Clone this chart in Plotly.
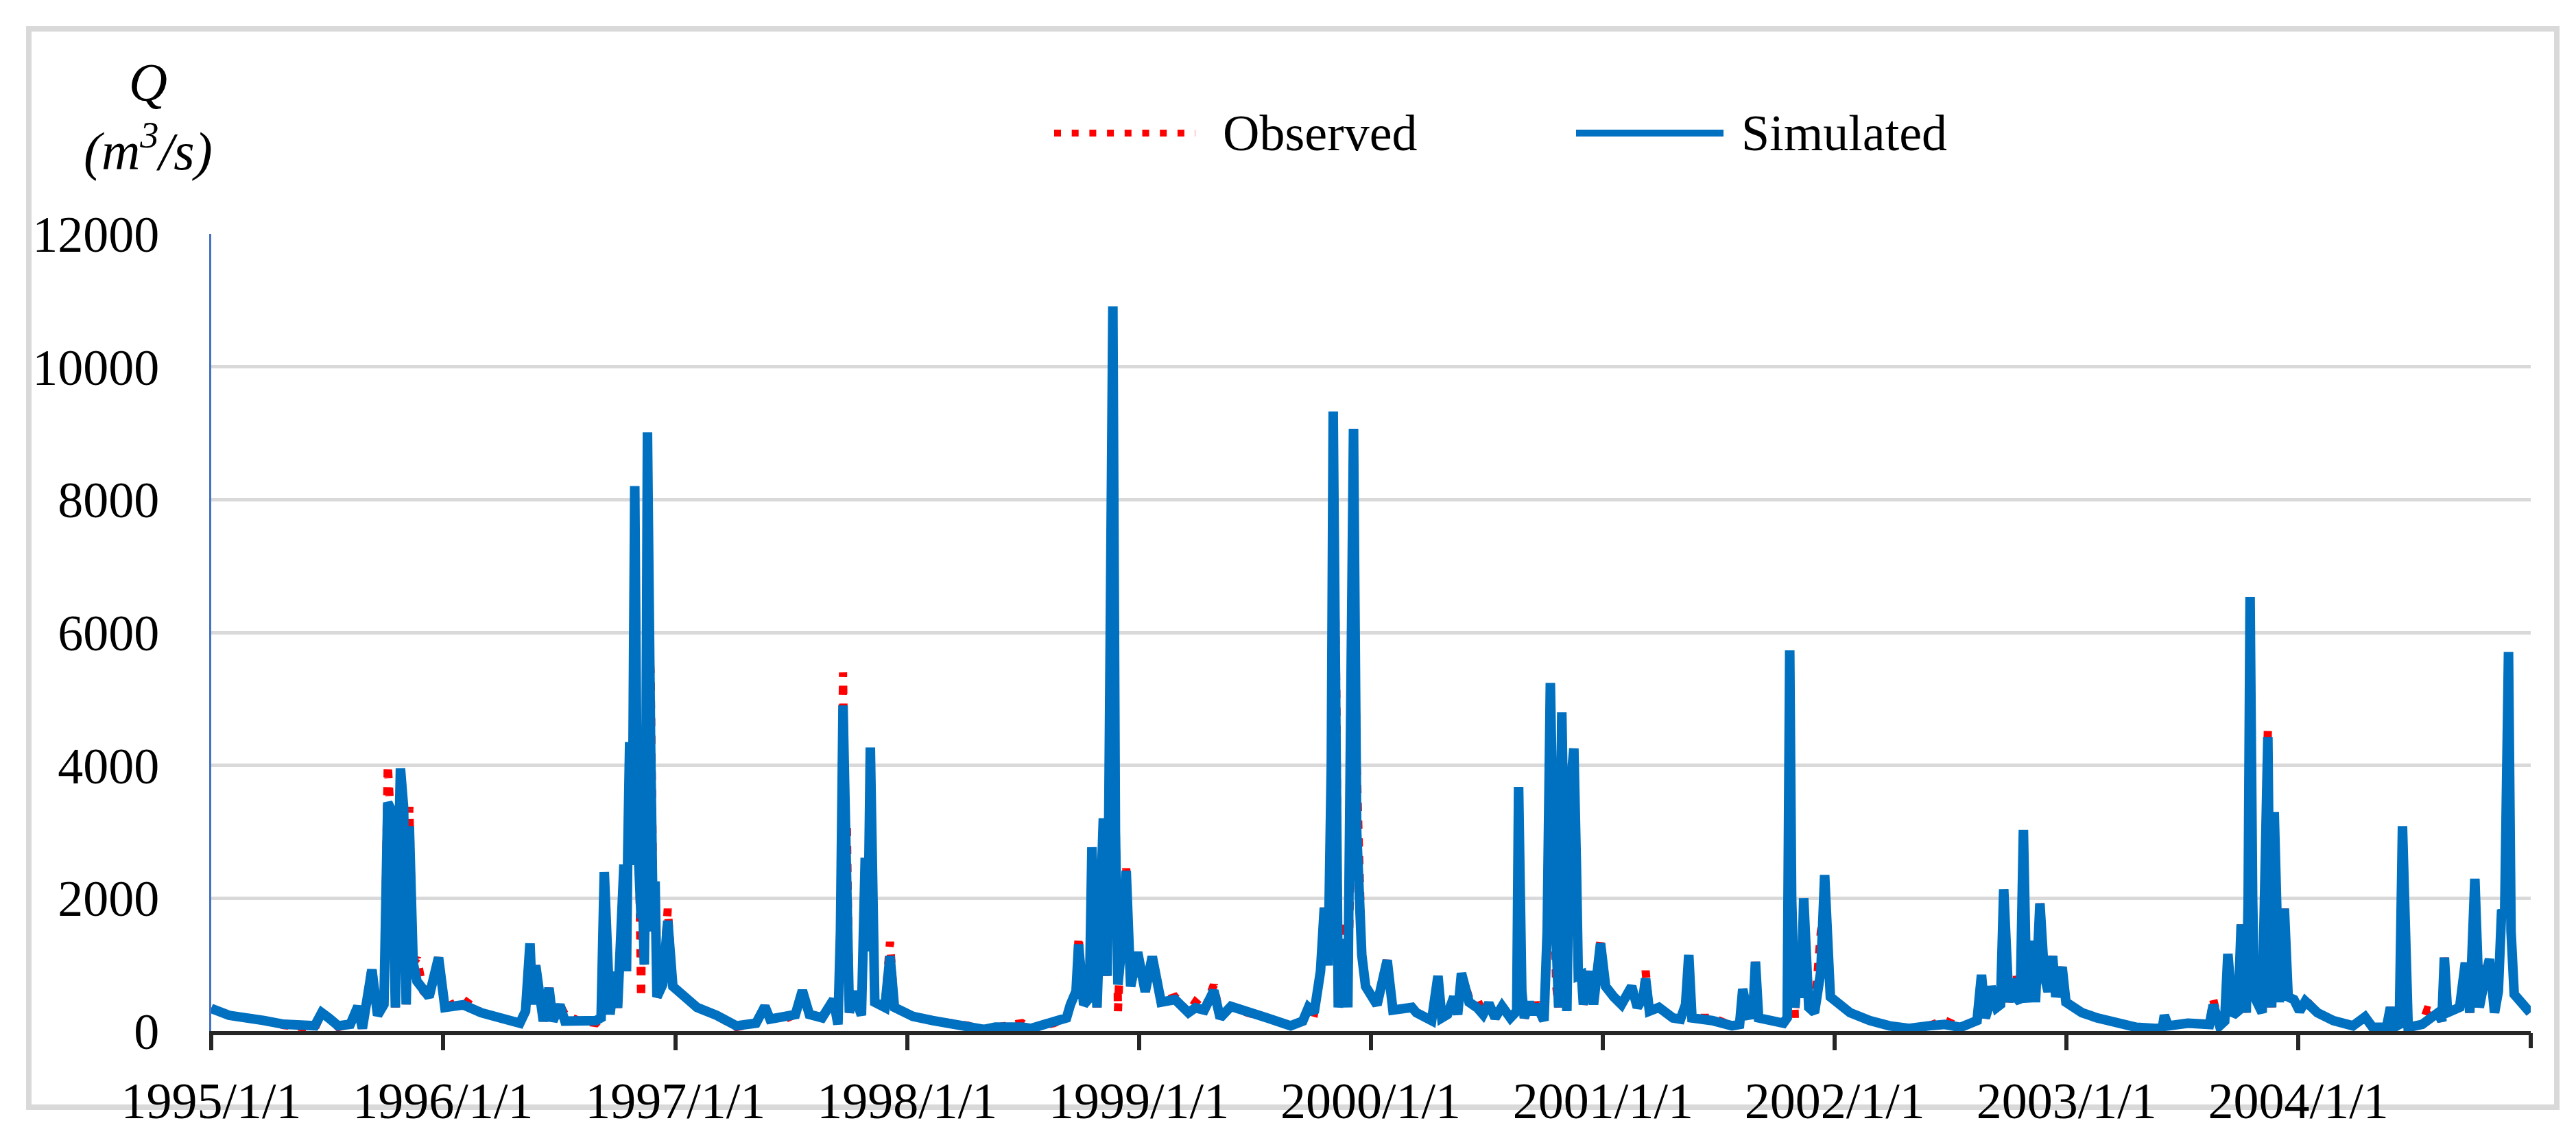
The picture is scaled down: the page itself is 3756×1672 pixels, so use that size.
import plotly.graph_objects as go

# ---- data (daily discharge, key points) ----
dates = [
    # 1995
    "1995-01-01", "1995-01-29", "1995-03-25", "1995-04-25", "1995-06-13", "1995-06-24", "1995-07-05",
    "1995-07-20", "1995-08-08", "1995-08-20", "1995-08-27", "1995-09-11", "1995-09-20", "1995-09-30",
    "1995-10-06", "1995-10-12", "1995-10-18", "1995-10-26", "1995-10-31", "1995-11-04", "1995-11-09",
    "1995-11-15", "1995-11-21", "1995-12-01", "1995-12-10", "1995-12-25",
    # 1996
    "1996-01-04", "1996-02-02", "1996-03-01", "1996-03-31", "1996-05-01", "1996-05-10", "1996-05-17",
    "1996-05-21", "1996-05-26", "1996-06-07", "1996-06-16", "1996-06-22", "1996-07-03", "1996-07-11",
    "1996-08-01", "1996-08-29", "1996-09-06", "1996-09-11", "1996-09-20", "1996-09-28", "1996-10-02",
    "1996-10-12", "1996-10-14", "1996-10-16", "1996-10-18", "1996-10-21", "1996-10-25", "1996-10-29",
    "1996-11-02", "1996-11-05", "1996-11-08", "1996-11-10", "1996-11-13", "1996-11-15", "1996-11-18",
    "1996-11-23", "1996-11-27", "1996-11-30", "1996-12-03", "1996-12-12", "1996-12-20", "1996-12-28",
    # 1997
    "1997-02-04", "1997-03-07", "1997-04-07", "1997-05-08", "1997-05-22", "1997-05-30", "1997-06-08",
    "1997-06-27", "1997-07-09", "1997-07-20", "1997-07-31", "1997-08-20", "1997-09-07", "1997-09-14",
    "1997-09-18", "1997-09-22", "1997-09-25", "1997-09-28", "1997-10-02", "1997-10-08", "1997-10-21",
    "1997-10-27", "1997-10-31", "1997-11-04", "1997-11-08", "1997-11-11", "1997-11-27", "1997-12-05",
    "1997-12-12",
    # 1998
    "1998-01-10", "1998-02-10", "1998-03-13", "1998-04-07", "1998-05-02", "1998-05-20", "1998-05-27",
    "1998-07-01", "1998-07-15", "1998-08-20", "1998-09-09", "1998-09-15", "1998-09-24", "1998-09-28",
    "1998-10-06", "1998-10-15", "1998-10-19", "1998-10-27", "1998-11-01", "1998-11-06", "1998-11-09",
    "1998-11-12", "1998-11-14", "1998-11-17", "1998-11-21", "1998-11-25", "1998-11-29", "1998-12-04",
    "1998-12-08", "1998-12-12", "1998-12-15", "1998-12-19", "1998-12-30",
    # 1999
    "1999-01-11", "1999-01-22", "1999-02-05", "1999-02-27", "1999-03-20", "1999-03-31", "1999-04-14",
    "1999-04-29", "1999-05-09", "1999-05-26", "1999-06-21", "1999-07-22", "1999-08-28", "1999-09-16",
    "1999-09-25", "1999-10-04", "1999-10-14", "1999-10-20", "1999-10-26", "1999-10-31", "1999-11-03",
    "1999-11-08", "1999-11-11", "1999-11-17", "1999-11-22", "1999-11-26", "1999-12-01", "1999-12-05",
    "1999-12-10", "1999-12-18", "1999-12-24",
    # 2000
    "2000-01-11", "2000-01-27", "2000-02-05", "2000-03-06", "2000-03-13", "2000-04-06", "2000-04-16",
    "2000-04-22", "2000-05-01", "2000-05-11", "2000-05-17", "2000-05-23", "2000-06-04", "2000-06-17",
    "2000-06-26", "2000-07-05", "2000-07-15", "2000-07-26", "2000-08-08", "2000-08-18", "2000-08-21",
    "2000-08-26", "2000-08-30", "2000-09-07", "2000-09-13", "2000-09-18", "2000-09-30", "2000-10-05",
    "2000-10-10", "2000-10-15", "2000-10-19", "2000-10-23", "2000-10-28", "2000-11-01", "2000-11-05",
    "2000-11-10", "2000-11-16", "2000-11-20", "2000-11-23", "2000-11-28", "2000-12-01", "2000-12-11",
    "2000-12-17", "2000-12-28",
    # 2001
    "2001-01-05", "2001-01-18", "2001-01-30", "2001-02-15", "2001-02-24", "2001-03-05", "2001-03-09",
    "2001-03-15", "2001-03-30", "2001-04-21", "2001-05-03", "2001-05-11", "2001-05-16", "2001-05-21",
    "2001-06-22", "2001-07-23", "2001-08-04", "2001-08-09", "2001-08-17", "2001-08-25", "2001-08-29",
    "2001-09-03", "2001-09-23", "2001-10-12", "2001-10-18", "2001-10-22", "2001-10-25", "2001-10-30",
    "2001-11-05", "2001-11-09", "2001-11-13", "2001-11-17", "2001-11-21", "2001-11-30", "2001-12-10",
    "2001-12-16", "2001-12-21", "2001-12-25",
    # 2002
    "2002-01-25", "2002-02-25", "2002-03-28", "2002-04-28", "2002-05-29", "2002-06-23", "2002-07-18",
    "2002-08-09", "2002-08-13", "2002-08-20", "2002-08-26", "2002-08-31", "2002-09-04", "2002-09-13",
    "2002-09-19", "2002-09-24", "2002-09-29", "2002-10-02", "2002-10-08", "2002-10-14", "2002-10-20",
    "2002-10-25", "2002-10-30", "2002-11-02", "2002-11-07", "2002-11-13", "2002-11-20", "2002-11-27",
    "2002-12-03", "2002-12-10", "2002-12-15", "2002-12-25", "2002-12-31",
    # 2003
    "2003-01-25", "2003-02-18", "2003-03-21", "2003-04-21", "2003-05-22", "2003-06-01", "2003-06-04",
    "2003-06-10", "2003-07-11", "2003-08-05", "2003-08-14", "2003-08-20", "2003-08-30", "2003-09-07",
    "2003-09-12", "2003-09-20", "2003-09-28", "2003-10-03", "2003-10-11", "2003-10-14", "2003-10-17",
    "2003-10-21", "2003-10-24", "2003-11-05", "2003-11-10", "2003-11-14", "2003-11-17", "2003-11-20",
    "2003-11-24", "2003-11-28", "2003-12-02", "2003-12-10", "2003-12-16", "2003-12-25",
    # 2004
    "2004-01-03", "2004-01-12", "2004-01-31", "2004-02-25", "2004-03-27", "2004-04-15", "2004-04-27",
    "2004-05-19", "2004-05-25", "2004-05-31", "2004-06-08", "2004-06-13", "2004-06-18", "2004-06-22",
    "2004-07-14", "2004-07-22", "2004-08-08", "2004-08-14", "2004-08-18", "2004-08-23", "2004-09-11",
    "2004-09-20", "2004-09-27", "2004-10-05", "2004-10-12", "2004-10-21", "2004-10-28", "2004-11-05",
    "2004-11-11", "2004-11-16", "2004-11-21", "2004-11-27", "2004-12-01", "2004-12-06", "2004-12-19",
    "2004-12-31",
]

simulated = [
    # 1995
    340, 237, 158, 103, 79, 277, 198, 79, 103, 372, 40, 925, 237, 400, 3439, 3320, 356, 3953, 3360, 400,
    3083, 1028, 750, 600, 514, 1107,
    # 1996
    356, 395, 277, 198, 119, 300, 1320, 400, 988, 150, 648, 150, 395, 150, 158, 158, 200, 2395, 250, 893,
    350, 2506, 1800, 900, 2700, 4348, 2500, 8205, 3043, 2600, 1700, 2200, 1000, 2500, 9012,
    4300, 1500, 2253, 514, 700, 1660, 672,
    # 1997
    356, 237, 79, 119, 372, 180, 198, 200, 250, 609, 250, 200, 474, 100, 1500, 4901, 3000, 3043, 277, 593,
    237, 2609, 1200, 4269, 2000, 435, 356, 1130, 356,
    # 1998
    221, 158, 119, 80, 24, 60, 64, 60, 40, 119, 198, 395, 600, 1304, 395, 500, 2767, 356, 1500, 3202,
    2000, 830, 2600, 8933, 10909, 3000, 700, 1200, 1500, 2411, 1300, 672, 1186,
    # 1999
    593, 1123, 435, 474, 277, 350, 316, 609, 198, 372, 277, 198, 79, 150, 356, 277, 900, 1858, 988, 4000,
    9328, 3500, 356, 1000, 1383, 356, 4000, 9067, 3000, 1146, 672,
    # 2000
    395, 1067, 316, 356, 277, 158, 830, 198, 250, 514, 250, 870, 435, 350, 250, 419, 198, 372, 198, 300,
    3676, 600, 198, 435, 250, 395, 158, 1500, 5241, 2500, 1423, 356, 4798, 1500, 300, 3597, 4253, 2500,
    830, 850, 400, 900, 400, 1320,
    # 2001
    672, 514, 400, 672, 356, 500, 790, 300, 356, 198, 180, 400, 1146, 198, 158, 79, 100, 632, 237, 250,
    1043, 198, 158, 119, 200, 5731, 2000, 356, 1067, 500, 2000, 700, 356, 277, 900, 2348, 700, 514,
    # 2002
    277, 158, 79, 40, 79, 100, 56, 119, 158, 846, 198, 350, 672, 356, 400, 2134, 500, 435, 790, 500,
    435, 3028, 600, 435, 1360, 435, 1921, 830, 593, 1130, 514, 964, 435,
    # 2003
    277, 198, 119, 56, 40, 50, 237, 79, 119, 103, 100, 395, 79, 150, 1162, 237, 300, 1605, 277, 2000,
    6537, 2000, 514, 277, 2500, 4427, 1500, 356, 3296, 1000, 435, 1842, 514, 474,
    # 2004
    300, 450, 277, 158, 79, 213, 56, 60, 356, 56, 100, 3083, 400, 56, 100, 150, 277, 150, 1107, 277,
    356, 1028, 277, 2293, 356, 800, 1083, 277, 600, 1779, 1800, 5707, 1500, 553, 395, 277,
]

observed = [
    # 1995
    340, 237, 158, 90, 40, 277, 198, 60, 103, 372, 40, 988, 237, 400, 4008, 3000, 356, 2885, 2900, 400,
    3375, 1028, 1100, 600, 514, 1107,
    # 1996
    356, 474, 277, 198, 119, 300, 1100, 400, 988, 150, 648, 150, 395, 250, 158, 120, 200, 2371, 250, 893,
    350, 2400, 1700, 900, 2600, 4000, 2500, 8103, 3043, 2500, 500, 2000, 1000, 2300, 6205,
    5400, 2000, 2100, 514, 700, 1842, 672,
    # 1997
    356, 237, 60, 119, 372, 180, 198, 200, 250, 593, 250, 200, 474, 100, 1500, 5399, 3200, 3100, 277, 593,
    237, 2400, 1200, 3834, 2000, 435, 356, 1344, 356,
    # 1998
    221, 158, 119, 80, 10, 60, 64, 119, 40, 119, 198, 395, 600, 1423, 395, 500, 2200, 356, 1500, 2500,
    1800, 830, 2300, 6000, 8024, 3500, 300, 1500, 1600, 2450, 1300, 672, 1186,
    # 1999
    593, 1123, 435, 514, 277, 435, 316, 696, 198, 372, 277, 198, 79, 150, 300, 277, 900, 1858, 988, 4000,
    8893, 5000, 356, 1000, 1660, 356, 3000, 7865, 4000, 1146, 672,
    # 2000
    395, 1067, 316, 356, 277, 158, 830, 198, 250, 514, 250, 870, 500, 474, 250, 419, 198, 372, 198, 300,
    3281, 600, 198, 435, 250, 430, 120, 1500, 5273, 2500, 700, 356, 4400, 1500, 300, 3597, 3600, 2500,
    830, 850, 400, 900, 400, 1368,
    # 2001
    672, 514, 400, 672, 356, 500, 909, 300, 356, 198, 180, 400, 1146, 198, 200, 79, 100, 632, 237, 250,
    1043, 198, 158, 119, 200, 5099, 2000, 200, 1130, 500, 1900, 700, 356, 277, 1500, 1779, 700, 514,
    # 2002
    277, 158, 79, 40, 79, 160, 56, 119, 158, 870, 198, 350, 672, 356, 400, 2134, 500, 435, 790, 870,
    435, 2885, 600, 435, 1360, 435, 1921, 830, 593, 1130, 514, 964, 435,
    # 2003
    277, 198, 119, 56, 40, 50, 237, 79, 119, 103, 100, 474, 79, 150, 1162, 237, 300, 1605, 277, 2000,
    5415, 2000, 514, 277, 2500, 4545, 1500, 356, 2900, 1000, 435, 1842, 514, 474,
    # 2004
    300, 474, 277, 158, 79, 213, 56, 60, 356, 56, 100, 2727, 400, 56, 100, 316, 277, 150, 1107, 277,
    356, 1028, 277, 2316, 356, 1000, 1083, 277, 600, 1779, 1800, 5613, 1500, 553, 395, 277,
]

tick_dates = ["1995-01-01", "1996-01-01", "1997-01-01", "1998-01-01", "1999-01-01", "2000-01-01",
              "2001-01-01", "2002-01-01", "2003-01-01", "2004-01-01"]
tick_labels = ["1995/1/1", "1996/1/1", "1997/1/1", "1998/1/1", "1999/1/1", "2000/1/1",
               "2001/1/1", "2002/1/1", "2003/1/1", "2004/1/1"]
y_ticks = [0, 2000, 4000, 6000, 8000, 10000, 12000]
series_names = ["Observed", "Simulated"]

assert len(dates) == len(simulated) == len(observed)

W, H = 3756, 1672
L, R, T, B = 300, 3682, 333, 1495  # plot area in px
PW, PH = R - L, B - T


def px(x):
    return (x - L) / PW


def py(y):
    return (B - y) / PH


FONT = "Liberation Serif"
RED = "#FF0000"
BLUE = "#0070C0"
DARK = "#262626"

fig = go.Figure()
fig.add_trace(go.Scatter(x=dates, y=observed, mode="lines", name=series_names[0],
                         line=dict(color=RED, width=12, dash="12px,14px"), showlegend=False))
fig.add_trace(go.Scatter(x=dates, y=simulated, mode="lines", name=series_names[1],
                         line=dict(color=BLUE, width=14), showlegend=False))

shapes = [
    # outer frame
    dict(type="rect", xref="paper", yref="paper", x0=px(34), x1=px(3720), y0=py(1606), y1=py(34),
         line=dict(color="#D9D9D9", width=8), fillcolor="rgba(0,0,0,0)", layer="below"),
    # closing tick mark at the right end of the time axis
    dict(type="line", xref="paper", yref="paper", x0=1, x1=1, y0=py(B + 3), y1=py(B + 25),
         line=dict(color=DARK, width=6)),
    # legend samples
    dict(type="line", xref="paper", yref="paper", x0=px(1529), x1=px(1735), y0=py(186), y1=py(186),
         line=dict(color=RED, width=10, dash="10px,15.7px")),
    dict(type="line", xref="paper", yref="paper", x0=px(2290), x1=px(2505), y0=py(186), y1=py(186),
         line=dict(color=BLUE, width=10)),
]

annotations = [
    dict(xref="paper", yref="paper", x=px(1773), y=py(186), xanchor="left", yanchor="middle",
         text=series_names[0], showarrow=False, font=dict(family=FONT, size=74, color="black")),
    dict(xref="paper", yref="paper", x=px(2529), y=py(186), xanchor="left", yanchor="middle",
         text=series_names[1], showarrow=False, font=dict(family=FONT, size=74, color="black")),
    dict(xref="paper", yref="paper", x=px(208), y=py(162), xanchor="center", yanchor="middle",
         text="<i>Q</i><br><i>(m<sup>3</sup>/s)</i>", showarrow=False,
         font=dict(family=FONT, size=78, color="black")),
]

fig.update_layout(
    width=W, height=H,
    margin=dict(l=L, r=W - R, t=T, b=H - B, pad=0),
    paper_bgcolor="white", plot_bgcolor="white",
    shapes=shapes, annotations=annotations,
    showlegend=False,
    font=dict(family=FONT, color="black"),
)
fig.update_xaxes(
    type="date", range=["1995-01-01", "2005-01-01"],
    tickvals=tick_dates, ticktext=tick_labels,
    showgrid=False, zeroline=False,
    showline=True, linecolor=DARK, linewidth=6,
    ticks="outside", ticklen=22, tickwidth=6, tickcolor=DARK,
    tickfont=dict(family=FONT, size=74, color="black"),
    ticklabelstandoff=10,
)
fig.update_yaxes(
    range=[0, 12000], tickvals=y_ticks, ticktext=[str(v) for v in y_ticks],
    showgrid=True, gridcolor="#D9D9D9", gridwidth=5, zeroline=False,
    showline=True, linecolor="#4472C4", linewidth=3,
    ticks="", tickfont=dict(family=FONT, size=74, color="black"),
    ticklabelstandoff=58,
)

fig.write_html("out.html")
